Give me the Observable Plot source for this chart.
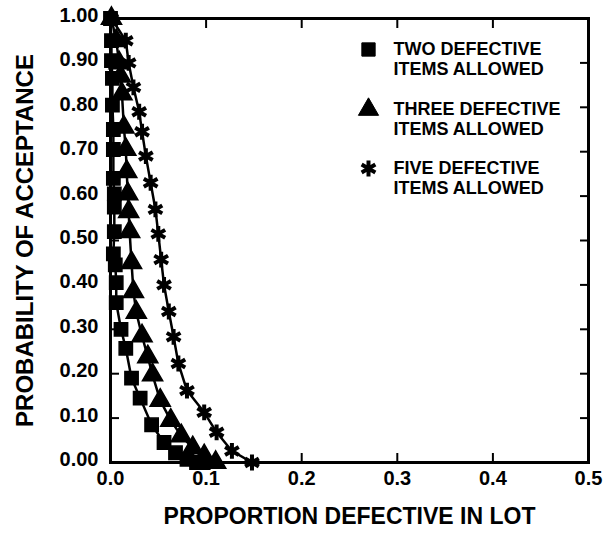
<!DOCTYPE html>
<html><head><meta charset="utf-8">
<script src="https://cdn.jsdelivr.net/npm/d3@7"></script>
<script src="https://cdn.jsdelivr.net/npm/@observablehq/plot@0.6"></script>
<style>body{margin:0;background:#fff}</style>
</head><body><div id="chart"></div>
<script>
// tick values
const xTicks = [0, 0.1, 0.2, 0.3, 0.4, 0.5];
const yTicks = [0, 0.1, 0.2, 0.3, 0.4, 0.5, 0.6, 0.7, 0.8, 0.9, 1.0];
const xInnerTicks = [0.1, 0.2, 0.3, 0.4];
const yInnerTicks = [0.1, 0.2, 0.3, 0.4, 0.5, 0.6, 0.7, 0.8, 0.9];

// titles and series names
const xTitle = "PROPORTION DEFECTIVE IN LOT";
const yTitle = "PROBABILITY OF ACCEPTANCE";
const seriesNames = ["TWO DEFECTIVE\nITEMS ALLOWED", "THREE DEFECTIVE\nITEMS ALLOWED", "FIVE DEFECTIVE\nITEMS ALLOWED"];

// two defective items allowed (squares)
const pTwo  = [0.000, 0.001, 0.001, 0.002, 0.002, 0.003, 0.003, 0.003, 0.004, 0.004, 0.004, 0.003, 0.005, 0.006, 0.006, 0.011, 0.016, 0.022, 0.031, 0.043, 0.056, 0.068, 0.080, 0.090, 0.097];
const paTwo = [1.00, 0.95, 0.905, 0.865, 0.805, 0.75, 0.705, 0.64, 0.605, 0.575, 0.52, 0.47, 0.445, 0.405, 0.36, 0.30, 0.257, 0.19, 0.145, 0.085, 0.045, 0.022, 0.007, 0.0, 0.0];

// three defective items allowed (triangles)
const pThree  = [0.001, 0.006, 0.009, 0.0105, 0.012, 0.014, 0.016, 0.017, 0.018, 0.019, 0.020, 0.022, 0.024, 0.027, 0.033, 0.039, 0.044, 0.052, 0.063, 0.074, 0.086, 0.098, 0.110];
const paThree = [1.00, 0.95, 0.90, 0.87, 0.83, 0.755, 0.705, 0.655, 0.605, 0.565, 0.52, 0.45, 0.385, 0.338, 0.285, 0.238, 0.197, 0.14, 0.095, 0.06, 0.033, 0.015, 0.0];

// five defective items allowed (stars)
const pFive  = [0.001, 0.016, 0.019, 0.024, 0.030, 0.033, 0.037, 0.042, 0.047, 0.050, 0.053, 0.056, 0.061, 0.066, 0.071, 0.080, 0.098, 0.111, 0.127, 0.148];
const paFive = [1.00, 0.95, 0.90, 0.845, 0.79, 0.745, 0.69, 0.63, 0.57, 0.515, 0.457, 0.40, 0.34, 0.283, 0.223, 0.162, 0.113, 0.068, 0.026, 0.0];

const toRows = (ps, pas) => ps.map((p, i) => ({p, pa: pas[i]}));
const two = toRows(pTwo, paTwo);
const three = toRows(pThree, paThree);
const five = toRows(pFive, paFive);

const font = "'Liberation Sans', Arial, Helvetica, sans-serif";

const legendMarks = [];
const legendSymbols = ["square", "triangle", "asterisk"];
const legendRowDy = [31, 91, 150];
seriesNames.forEach((name, i) => {
  const sym = legendSymbols[i];
  legendMarks.push(Plot.dot([0], {
    frameAnchor: "top-left", dx: 258, dy: legendRowDy[i],
    symbol: sym, r: 7.5,
    fill: sym === "asterisk" ? "none" : "black",
    stroke: "black", strokeWidth: sym === "asterisk" ? 4 : 1
  }));
  legendMarks.push(Plot.text([name], {
    frameAnchor: "top-left", dx: 283, dy: legendRowDy[i] + 9,
    textAnchor: "start", lineAnchor: "middle", lineHeight: 1.1,
    fontSize: 18, fontWeight: "bold", fill: "black"
  }));
});

const chart = Plot.plot({
  width: 610,
  height: 559,
  marginLeft: 110,
  marginRight: 22,
  marginTop: 18,
  marginBottom: 97,
  x: {domain: [0, 0.5], axis: null},
  y: {domain: [0, 1], axis: null},
  style: {fontFamily: font, fontWeight: "bold", color: "black", background: "white", overflow: "visible"},
  marks: [
    Plot.frame({stroke: "black", strokeWidth: 3}),
    Plot.axisX(xTicks, {anchor: "bottom", tickSize: 0, tickPadding: 8, tickFormat: d3.format(".1f"), fontSize: 20, fontWeight: "bold", label: null}),
    Plot.axisY(yTicks, {anchor: "left", tickSize: 0, tickPadding: 12, tickFormat: d3.format(".2f"), fontSize: 20, fontWeight: "bold", dy: -3, label: null}),
    Plot.axisX(xInnerTicks, {anchor: "bottom", tickSize: -9, tickFormat: () => "", strokeWidth: 2, label: null}),
    Plot.axisX(xInnerTicks, {anchor: "top", tickSize: -9, tickFormat: () => "", strokeWidth: 2, label: null}),
    Plot.axisY(yInnerTicks, {anchor: "left", tickSize: -9, tickFormat: () => "", strokeWidth: 2, label: null}),
    Plot.axisY(yInnerTicks, {anchor: "right", tickSize: -9, tickFormat: () => "", strokeWidth: 2, label: null}),
    Plot.text([xTitle], {frameAnchor: "bottom", dy: 61, textAnchor: "middle", fontSize: 23, fontWeight: "bold", fill: "black"}),
    Plot.text([yTitle], {frameAnchor: "left", dx: -85, rotate: -90, textAnchor: "middle", fontSize: 24, fontWeight: "bold", fill: "black"}),
    Plot.line(two, {x: "p", y: "pa", stroke: "black", strokeWidth: 2.5}),
    Plot.line(three, {x: "p", y: "pa", stroke: "black", strokeWidth: 2.5}),
    Plot.line(five, {x: "p", y: "pa", stroke: "black", strokeWidth: 2.5}),
    Plot.dot(two, {x: "p", y: "pa", symbol: "square", r: 7.5, fill: "black", stroke: "black"}),
    Plot.dot(three, {x: "p", y: "pa", symbol: "triangle", r: 7.5, fill: "black", stroke: "black"}),
    Plot.dot(five, {x: "p", y: "pa", symbol: "asterisk", r: 7.5, fill: "none", stroke: "black", strokeWidth: 4}),
    ...legendMarks
  ]
});
document.getElementById("chart").appendChild(chart);
</script>
</body></html>
